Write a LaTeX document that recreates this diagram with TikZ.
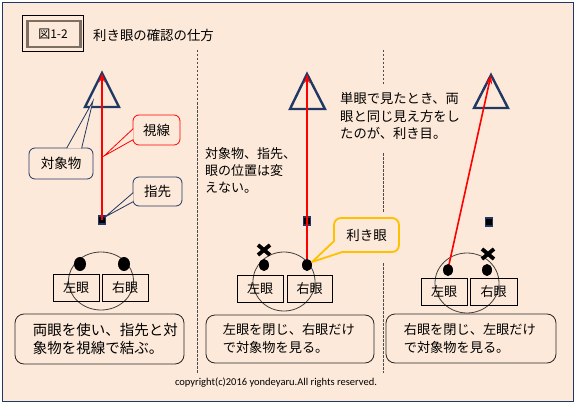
\documentclass[tikz,border=0pt]{standalone}
\usepackage{fontspec}
\setmainfont{Noto Sans CJK JP}
\newfontfamily\latinfont{Carlito}
\usetikzlibrary{arrows.meta,calc,shapes.geometric}
\definecolor{bg}{HTML}{FDE9D9}
\definecolor{navy}{HTML}{1F3864}
\definecolor{redl}{HTML}{FF0000}
\definecolor{gold}{HTML}{FFC000}
\definecolor{framec}{HTML}{7F6F60}
\begin{document}
\begin{tikzpicture}[x=1pt,y=-1pt,
  tri/.style={draw=navy,line width=2.4pt,line join=miter},
  ray/.style={draw=redl,line width=1.6pt,-{Stealth[length=9pt,width=6pt]}},
  sq/.style={draw=navy,fill=black,line width=1.2pt,minimum width=7pt,minimum height=8pt,inner sep=0pt},
  eye/.style={fill=black,ellipse,inner sep=0pt},
  face/.style={draw=black!75,line width=0.8pt},
  eyebox/.style={draw=black,line width=0.7pt,minimum width=46pt,minimum height=27pt,inner sep=0pt,font=\fontsize{13}{13}\selectfont},
  desc/.style={draw=black!85,line width=0.8pt,fill=bg,rounded corners=9pt,inner sep=0pt},
  desctext/.style={anchor=west,align=left,inner sep=0pt},
  call/.style={fill=bg,rounded corners=6pt,inner sep=0pt,font=\fontsize{13.5}{13.5}\selectfont},
  divider/.style={draw=black!70,line width=0.8pt,dash pattern=on 2.5pt off 1.5pt},
  xmark/.style={draw=black,line width=3.8pt},
]
\useasboundingbox (0,0) rectangle (576,404);
\fill[white] (0,0) rectangle (576,404);
\filldraw[fill=bg,draw=navy,line width=1.2pt] (2.5,2.5) rectangle (573.5,401.5);

% title
\draw[black,line width=0.7pt] (22.5,15.5) rectangle (83.5,51.5);
\draw[framec,line width=2.2pt] (27.5,21) rectangle (80.5,47);
\node[inner sep=0pt,font=\fontsize{12}{12}\selectfont] (fig) at (53,34) {図1-2};
\node[anchor=west,inner sep=0pt,font=\fontsize{13.4}{13.4}\selectfont] (title) at (93,35) {利き眼の確認の仕方};

% dividers
\coordinate (d1t) at (197,50); \coordinate (d1b) at (197,373);
\draw[divider] (d1t) -- (d1b);
\coordinate (d2a) at (383,50); \coordinate (d2b) at (383,84);
\coordinate (d2c) at (383,153); \coordinate (d2d) at (383,213);
\coordinate (d2e) at (383,263); \coordinate (d2f) at (383,373);
\draw[divider] (d2a) -- (d2b);
\draw[divider] (d2c) -- (d2d);
\draw[divider] (d2e) -- (d2f);

% ---------- panel 1 ----------
\coordinate (a1) at (102,73);
\coordinate (b1l) at (85,107); \coordinate (b1r) at (119,107);
\draw[tri] (a1) -- (b1r) -- (b1l) -- cycle;
\node[sq] (sq1) at (102,220) {};
\draw[ray] (sq1.center) -- (a1);

% callouts
\node[call,draw=redl,line width=0.8pt,minimum width=47pt,minimum height=30pt] (sl) at (156.5,130) {視線};
\coordinate (tsl) at (104,156);
\fill[bg] ($(sl.north west)+(0.7,14)$) -- (tsl) -- ($(sl.north west)+(0.7,25)$) -- cycle;
\draw[redl,line width=0.8pt] ($(sl.north west)+(0.7,14)$) -- (tsl) -- ($(sl.north west)+(0.7,25)$);

\node[call,draw=navy,line width=0.8pt,minimum width=64pt,minimum height=31pt] (tb) at (61,163.5) {対象物};
\coordinate (ttb) at (93,101);
\fill[bg] ($(tb.north west)+(38,0.7)$) -- (ttb) -- ($(tb.north west)+(53,0.7)$) -- cycle;
\draw[navy,line width=0.8pt] ($(tb.north west)+(38,0.7)$) -- (ttb) -- ($(tb.north west)+(53,0.7)$);

\node[call,draw=navy,line width=0.8pt,minimum width=49pt,minimum height=29pt] (ys) at (157.5,191.5) {指先};
\coordinate (tys) at (105,217);
\fill[bg] ($(ys.north west)+(0.7,16)$) -- (tys) -- ($(ys.north west)+(0.7,25)$) -- cycle;
\draw[navy,line width=0.8pt] ($(ys.north west)+(0.7,16)$) -- (tys) -- ($(ys.north west)+(0.7,25)$);

% face
\draw[face] (101,281) ellipse [x radius=32.5pt, y radius=29pt];
\node[eye,minimum width=12pt,minimum height=14pt] (le1) at (80,264) {};
\node[eye,minimum width=12pt,minimum height=14pt] (re1) at (124,264) {};
\node[eyebox] (lb1) at (76,287.5) {左眼};
\node[eyebox] (rb1) at (125,287.5) {右眼};

\node[desc,minimum width=169pt,minimum height=50pt] (ds1) at (99.5,339) {};
\node[desctext,font=\fontsize{14.5}{18}\selectfont] (dt1) at ($(ds1.west)+(18,0)$) {両眼を使い、指先と対\\象物を視線で結ぶ。};

% ---------- panel 2 ----------
\coordinate (a2) at (307,74);
\coordinate (b2l) at (290,109); \coordinate (b2r) at (325,109);
\draw[tri] (a2) -- (b2r) -- (b2l) -- cycle;
\node[sq] (sq2) at (307,221) {};
\draw[face] (284,281.5) ellipse [x radius=31pt, y radius=29.5pt];
\node[eyebox] (lb2) at (260,288.5) {左眼};
\node[eyebox,minimum width=45pt] (rb2) at (309.5,288.5) {右眼};
\coordinate (re2c) at (307,265);
\draw[ray] (re2c) -- (a2);
\node[eye,minimum width=10pt,minimum height=12pt] (le2) at (264,265) {};
\node[eye,minimum width=10pt,minimum height=12pt] (re2) at (307,265) {};
\coordinate (x2) at (264,250);
\draw[xmark] ($(x2)+(-6,-5)$) -- ($(x2)+(6,5)$);
\draw[xmark] ($(x2)+(-6,5)$) -- ($(x2)+(6,-5)$);

\node[anchor=west,align=left,inner sep=0pt,font=\fontsize{13}{17}\selectfont] (t2) at (205,170) {対象物、指先、\\眼の位置は変\\えない。};

\node[call,draw=gold,line width=1.8pt,rounded corners=7pt,minimum width=65pt,minimum height=34pt] (ke) at (366.5,235) {利き眼};
\coordinate (tke) at (312,262);
\fill[bg] ($(ke.south west)+(1.2,-12)$) -- (tke) -- ($(ke.south west)+(10,-1.2)$) -- cycle;
\draw[gold,line width=1.8pt,line join=round] ($(ke.south west)+(1.2,-12)$) -- (tke) -- ($(ke.south west)+(10,-1.2)$);

\node[desc,minimum width=168pt,minimum height=48pt] (ds2) at (290,339) {};
\node[desctext,font=\fontsize{13.2}{18}\selectfont] (dt2) at ($(ds2.west)+(17,0)$) {左眼を閉じ、右眼だけ\\で対象物を見る。};

% ---------- panel 3 ----------
\node[anchor=west,align=left,inner sep=0pt,font=\fontsize{13.3}{17.5}\selectfont] (t3) at (340,116) {単眼で見たとき、両\\眼と同じ見え方をし\\たのが、利き目。};

\coordinate (a3) at (491,75);
\coordinate (b3l) at (474,108); \coordinate (b3r) at (508,108);
\draw[tri] (a3) -- (b3r) -- (b3l) -- cycle;
\node[sq] (sq3) at (489,222) {};
\draw[face] (467,283) ellipse [x radius=32pt, y radius=30pt];
\node[eyebox] (lb3) at (444,292) {左眼};
\node[eyebox,minimum width=47pt] (rb3) at (493.5,292) {右眼};
\coordinate (le3c) at (448,269);
\draw[ray] (le3c) -- (a3);
\node[eye,minimum width=10pt,minimum height=12pt] (le3) at (448,270) {};
\node[eye,minimum width=10pt,minimum height=12pt] (re3) at (487,270) {};
\coordinate (x3) at (488,254);
\draw[xmark] ($(x3)+(-6,-5)$) -- ($(x3)+(6,5)$);
\draw[xmark] ($(x3)+(-6,5)$) -- ($(x3)+(6,-5)$);

\node[desc,minimum width=170pt,minimum height=49pt] (ds3) at (471,338.5) {};
\node[desctext,font=\fontsize{13.2}{18}\selectfont] (dt3) at ($(ds3.west)+(18,0)$) {右眼を閉じ、左眼だけ\\で対象物を見る。};

% copyright
\node[inner sep=0pt,font=\latinfont\fontsize{10.5}{10.5}\selectfont] (cr) at (276,383) {copyright(c)2016 yondeyaru.All rights reserved.};
\end{tikzpicture}
\end{document}
